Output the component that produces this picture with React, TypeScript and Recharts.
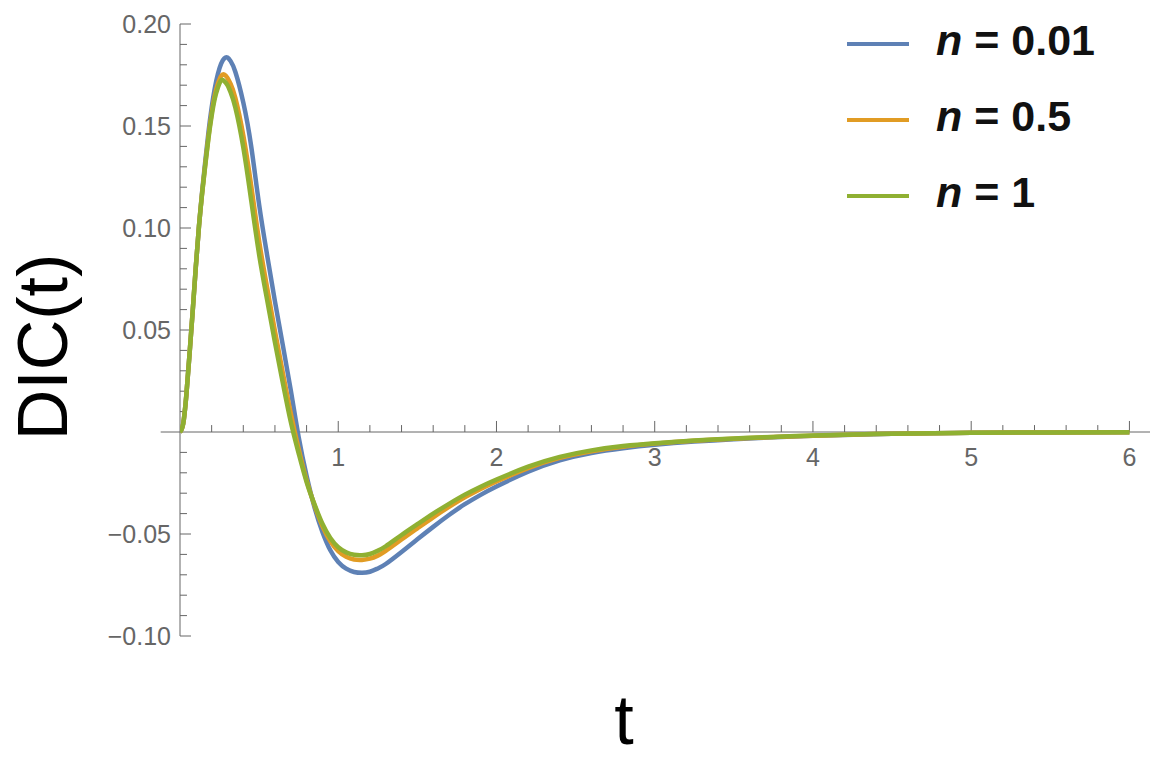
import React from "react";
import { LineChart, Line, XAxis, YAxis, ReferenceLine, Legend } from "recharts";

// t samples
const tValues = [
  0, 0.02, 0.04, 0.06, 0.08, 0.1, 0.12, 0.14, 0.16, 0.18, 0.2, 0.22, 0.24, 0.26,
  0.28, 0.3, 0.32, 0.35, 0.4, 0.45, 0.5, 0.55, 0.6, 0.65, 0.7, 0.75, 0.8, 0.85,
  0.9, 0.95, 1.0, 1.05, 1.1, 1.15, 1.2, 1.25, 1.3, 1.4, 1.5, 1.6, 1.7, 1.8, 1.9,
  2.0, 2.2, 2.4, 2.6, 2.8, 3.0, 3.25, 3.5, 3.75, 4.0, 4.5, 5.0, 5.5, 6.0,
];

// n = 0.01 (blue)
const dicN001 = [
  0, 0.004, 0.018, 0.038, 0.059, 0.081, 0.101, 0.118, 0.133, 0.147, 0.159,
  0.1685, 0.1757, 0.1806, 0.1832, 0.1836, 0.1818, 0.1765, 0.1615, 0.14, 0.1115,
  0.087, 0.064, 0.0425, 0.0205, -0.0025, -0.0215, -0.037, -0.049, -0.058,
  -0.0637, -0.067, -0.0686, -0.069, -0.0685, -0.0669, -0.0647, -0.0588, -0.0526,
  -0.0465, -0.0407, -0.0354, -0.0308, -0.0267, -0.0195, -0.0139, -0.0103,
  -0.008, -0.0063, -0.0047, -0.0035, -0.0026, -0.0019, -0.0009, -0.0004,
  -0.0002, -0.0001,
];

// n = 0.5 (orange)
const dicN05 = [
  0, 0.004, 0.018, 0.038, 0.059, 0.081, 0.101, 0.1173, 0.1315, 0.1448, 0.1562,
  0.165, 0.1708, 0.1745, 0.1752, 0.1736, 0.1706, 0.1637, 0.1454, 0.1207, 0.0936,
  0.071, 0.0494, 0.029, 0.0092, -0.0083, -0.0237, -0.0359, -0.0461, -0.0536,
  -0.0584, -0.0612, -0.0625, -0.0627, -0.0621, -0.0606, -0.0583, -0.0527,
  -0.0472, -0.0418, -0.0367, -0.032, -0.0279, -0.0242, -0.0177, -0.0127,
  -0.0094, -0.0072, -0.0057, -0.0043, -0.0033, -0.0025, -0.0018, -0.0008,
  -0.0004, -0.0002, -0.0001,
];

// n = 1 (green)
const dicN1 = [
  0, 0.004, 0.018, 0.038, 0.059, 0.081, 0.101, 0.117, 0.131, 0.144, 0.155,
  0.1635, 0.169, 0.1724, 0.172, 0.17, 0.1665, 0.159, 0.1395, 0.1135, 0.087,
  0.065, 0.044, 0.024, 0.005, -0.0105, -0.0245, -0.0355, -0.045, -0.052,
  -0.0565, -0.059, -0.0602, -0.0604, -0.0598, -0.0582, -0.056, -0.0505,
  -0.0452, -0.04, -0.0352, -0.0307, -0.0268, -0.0233, -0.017, -0.0122, -0.009,
  -0.0069, -0.0055, -0.0042, -0.0032, -0.0024, -0.0017, -0.0008, -0.0004,
  -0.0002, -0.0001,
];

const seriesNames = ["0.01", "0.5", "1"];
const seriesColors = ["#5E81B5", "#E19C24", "#8FB032"];

const xTickValues = [1, 2, 3, 4, 5, 6];
const xTickLabels = ["1", "2", "3", "4", "5", "6"];
const yTickValues = [-0.1, -0.05, 0.05, 0.1, 0.15, 0.2];
const yTickLabels = ["\u22120.10", "\u22120.05", "0.05", "0.10", "0.15", "0.20"];

const xMinor: number[] = [];
for (let i = 1; i <= 30; i++) if (i % 5 !== 0) xMinor.push(+(i * 0.2).toFixed(2));
const yMinor: number[] = [];
for (let i = -10; i <= 20; i++) if (i % 5 !== 0) yMinor.push(i / 100);

const data = tValues.map((t, i) => ({
  t,
  a: dicN001[i],
  b: dicN05[i],
  c: dicN1[i],
}));

const AXIS = "#666666";
const FONT = "'Liberation Sans', Arial, Helvetica, sans-serif";

const renderLegend = (props: any) => {
  const { payload } = props;
  return (
    <div style={{ display: "flex", flexDirection: "column" }}>
      {(payload || []).map((entry: any, i: number) => (
        <div key={i} style={{ display: "flex", alignItems: "center", height: 76 }}>
          <div style={{ width: 62, height: 4, background: entry.color }} />
          <span
            style={{
              marginLeft: 27,
              fontSize: 43,
              fontWeight: "bold",
              fontFamily: FONT,
              color: "#111",
              lineHeight: 1,
              position: "relative",
              top: -4,
              whiteSpace: "nowrap",
            }}
          >
            <i>n</i> = {entry.value}
          </span>
        </div>
      ))}
    </div>
  );
};

export default function App() {
  return (
    <div style={{ position: "absolute", left: 0, top: 0, fontFamily: FONT, background: "#fff" }}>
      <LineChart
        width={1158}
        height={758}
        data={data}
        margin={{ top: 24, right: 8, left: 100, bottom: 122 }}
      >
        <XAxis dataKey="t" type="number" domain={[0, 6.13]} hide allowDataOverflow />
        <YAxis
          type="number"
          domain={[-0.1, 0.2]}
          ticks={yTickValues}
          interval={0}
          width={80}
          axisLine={false}
          tickLine={false}
          tickSize={0}
          tickMargin={9}
          tick={{ fill: AXIS, fontSize: 25 }}
          tickFormatter={(v: number) => {
            const k = yTickValues.findIndex((y) => Math.abs(y - v) < 1e-9);
            return k >= 0 ? yTickLabels[k] : "";
          }}
        />

        {/* axes through the origin */}
        <ReferenceLine
          segment={[{ x: -0.122, y: 0 }, { x: 6.13, y: 0 }]}
          stroke={AXIS}
          strokeWidth={1}
          ifOverflow="visible"
        />
        <ReferenceLine
          segment={[{ x: 0, y: -0.1 }, { x: 0, y: 0.2 }]}
          stroke={AXIS}
          strokeWidth={1}
          ifOverflow="visible"
        />
        {xTickValues.map((t, i) => (
          <ReferenceLine
            key={"xM" + t}
            segment={[{ x: t, y: 0 }, { x: t, y: 0.0054 }]}
            stroke={AXIS}
            strokeWidth={1}
            ifOverflow="visible"
            label={{ value: xTickLabels[i], position: "bottom", offset: 16, fill: AXIS, fontSize: 25 }}
          />
        ))}
        {xMinor.map((t) => (
          <ReferenceLine
            key={"xm" + t}
            segment={[{ x: t, y: 0 }, { x: t, y: 0.0034 }]}
            stroke={AXIS}
            strokeWidth={1}
            ifOverflow="visible"
          />
        ))}
        {yTickValues.map((v) => (
          <ReferenceLine
            key={"yM" + v}
            segment={[{ x: 0, y: v }, { x: 0.0695, y: v }]}
            stroke={AXIS}
            strokeWidth={1}
            ifOverflow="visible"
          />
        ))}
        {yMinor.map((v) => (
          <ReferenceLine
            key={"ym" + v}
            segment={[{ x: 0, y: v }, { x: 0.0442, y: v }]}
            stroke={AXIS}
            strokeWidth={1}
            ifOverflow="visible"
          />
        ))}

        <Line type="natural" dataKey="a" name={seriesNames[0]} stroke={seriesColors[0]} strokeWidth={4.5} dot={false} isAnimationActive={false} />
        <Line type="natural" dataKey="b" name={seriesNames[1]} stroke={seriesColors[1]} strokeWidth={4.5} dot={false} isAnimationActive={false} />
        <Line type="natural" dataKey="c" name={seriesNames[2]} stroke={seriesColors[2]} strokeWidth={4.5} dot={false} isAnimationActive={false} />

        <Legend
          layout="vertical"
          align="center"
          verticalAlign="middle"
          content={renderLegend}
          wrapperStyle={{ left: 847, top: 6, width: 300, height: 230 }}
        />

        <text x={624} y={744} textAnchor="middle" fontSize={70} fill="#000">
          t
        </text>
        <text
          x={67}
          y={347}
          textAnchor="middle"
          fontSize={70}
          fill="#000"
          transform="rotate(-90, 67, 347)"
        >
          DIC(t)
        </text>
      </LineChart>
    </div>
  );
}
